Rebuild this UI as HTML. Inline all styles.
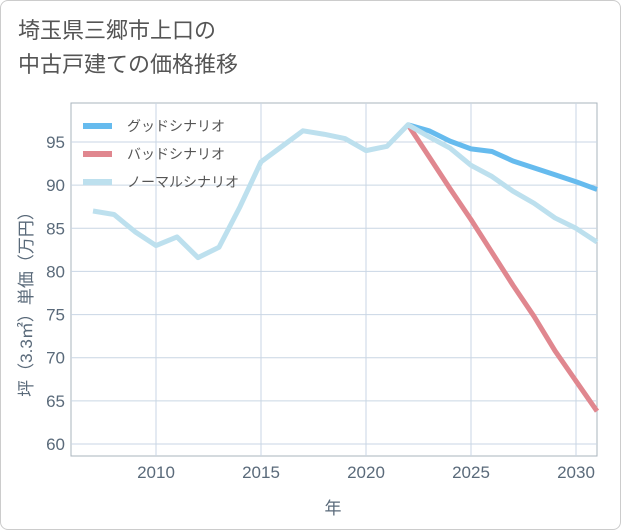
<!DOCTYPE html>
<html><head><meta charset="utf-8"><style>
body{margin:0;background:#fff;font-family:"Liberation Sans","Noto Sans CJK JP",sans-serif;}
#wrap{position:relative;width:621px;height:530px;}
.frame{position:absolute;left:0;top:0;width:619px;height:528px;border:1px solid #ccc;border-radius:8px;}
.title{position:absolute;left:18px;top:14px;font-size:22px;line-height:34px;color:#555;}
</style></head><body>
<div id="wrap">
<div class="frame"></div>
<div class="title">埼玉県三郷市上口の<br>中古戸建ての価格推移</div>
<svg id="chart" width="621" height="530" style="position:absolute;left:0;top:0"></svg>
</div>
<script>
const years=[2007,2008,2009,2010,2011,2012,2013,2014,2015,2016,2017,2018,2019,2020,2021,2022,2023,2024,2025,2026,2027,2028,2029,2030,2031];
const normalVals=[87.0,86.6,84.6,83.0,84.0,81.6,82.8,87.5,92.7,94.5,96.3,95.9,95.4,94.0,94.5,97.0,95.6,94.3,92.3,91.0,89.3,87.9,86.2,85.0,83.4];
const futureYears=[2022,2023,2024,2025,2026,2027,2028,2029,2030,2031];
const goodVals=[97.0,96.3,95.1,94.2,93.9,92.8,92.0,91.2,90.4,89.5];
const badVals=[97.0,93.3,89.6,86.0,82.2,78.4,74.8,70.8,67.3,63.8];
const yTicks=[60,65,70,75,80,85,90,95];
const xTicks=[2010,2015,2020,2025,2030];
const NS='http://www.w3.org/2000/svg';
const svg=document.getElementById('chart');
const L=71,R=597,T=103,B=456;
const xs=v=>156+(v-2010)*21;
const ys=v=>142+(95-v)*(302/35);
function mk(tag,attrs,parent){const e=document.createElementNS(NS,tag);for(const k in attrs)e.setAttribute(k,attrs[k]);(parent||svg).appendChild(e);return e;}
const bg=mk('rect',{x:L,y:T,width:R-L,height:B-T,fill:'#fff',stroke:'#aab4be','stroke-width':1});


yTicks.forEach(t=>{
 const g=mk('line',{x1:L,x2:R,y1:ys(t),y2:ys(t),stroke:'#c9d6e4','stroke-width':1});
 
 
 const tx=mk('text',{x:L-6,y:ys(t)+6,'text-anchor':'end','font-size':17,fill:'#5a6a7a'});
 tx.textContent=t;
 
 
});
xTicks.forEach(t=>{
 const g=mk('line',{x1:xs(t),x2:xs(t),y1:T,y2:B,stroke:'#c9d6e4','stroke-width':1});
 
 
 const tx=mk('text',{x:xs(t),y:478,'text-anchor':'middle','font-size':17,fill:'#5a6a7a'});
 tx.textContent=t;
 
 
});
function line(xv,yv,color,name){
 const p=mk('polyline',{points:xv.map((x,i)=>xs(x)+','+ys(yv[i])).join(' '),fill:'none',stroke:color,'stroke-width':5,'stroke-linejoin':'round'});
 
 
}
line(futureYears,badVals,'#e0878f','bad-scenario-line');
line(futureYears,goodVals,'#66bbee','good-scenario-line');
line(years,normalVals,'#bde0ee','normal-scenario-line');
const leg=[['グッドシナリオ','#66bbee'],['バッドシナリオ','#e0878f'],['ノーマルシナリオ','#bde0ee']];
leg.forEach((d,i)=>{
 const y=126+i*28;
 const s=mk('line',{x1:83,x2:112,y1:y,y2:y,stroke:d[1],'stroke-width':6});
 
 
 const t=mk('text',{x:127,y:y+5,'font-size':14,fill:'#555'});
 t.textContent=d[0];
 
 
});
const xt=mk('text',{x:333,y:514,'text-anchor':'middle','font-size':17,fill:'#5a6a7a'});
xt.textContent='年';


const yt=mk('text',{x:0,y:0,'text-anchor':'middle','font-size':17,fill:'#5a6a7a',transform:'translate(32,300) rotate(-90)'});
yt.textContent='坪（3.3㎡）単価（万円）';


</script>
</body></html>
